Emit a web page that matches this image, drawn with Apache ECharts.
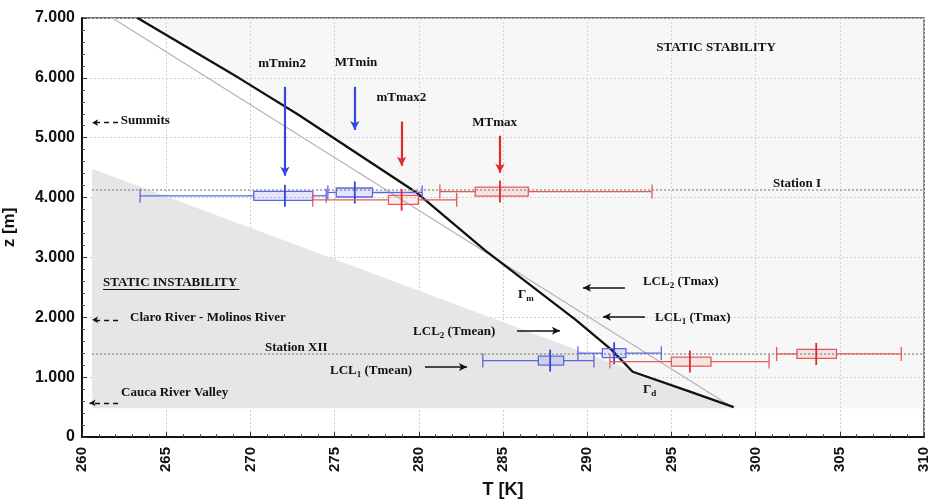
<!DOCTYPE html>
<html><head><meta charset="utf-8">
<script src="https://cdn.jsdelivr.net/npm/echarts@6/dist/echarts.min.js"></script>
<style>html,body{margin:0;padding:0;background:#fff}#c{width:935px;height:503px}</style>
</head><body><div id="c"></div>
<script>
// ---- data ----
const xTickValues = [260, 265, 270, 275, 280, 285, 290, 295, 300, 305, 310];
const yTickValues = [0, 1000, 2000, 3000, 4000, 5000, 6000, 7000];

// Black profile (moist adiabat Γm above the LCL, dry Γd below)
const blackT = [263.3, 269.3, 272.85, 279.9, 283.9, 289.3, 291.45, 292.7, 296.1, 298.7];
const blackZ = [7000, 6000, 5385, 4075, 3127, 1960, 1455, 1090, 758, 500];
// Thin grey reference line
const grayT = [261.8, 298.6];
const grayZ = [7000, 500];
// Static instability wedge
const instabT = [260.6, 298.7, 260.6];
const instabZ = [4480, 480, 480];
// Stability region right edge
const stabEdgeT = [310, 310];
const stabEdgeZ = [480, 7000];

// Horizontal box plots (0 = blue / Tmin, 1 = red / Tmax)
const boxName  = ['mTmin2', 'MTmin', 'mTmax2', 'MTmax', 'XII-b1', 'XII-b2', 'XII-r1', 'XII-r2'];
const boxLow   = [263.45, 274.6, 273.7, 281.25, 283.8, 289.45, 291.35, 301.25];
const boxQ1    = [270.2, 275.1, 278.2, 283.35, 287.1, 290.9, 295.0, 302.45];
const boxMed   = [272.05, 276.2, 278.98, 284.82, 287.8, 291.6, 296.1, 303.6];
const boxQ3    = [273.7, 277.25, 279.97, 286.5, 288.6, 292.3, 297.35, 304.8];
const boxHigh  = [274.5, 280.2, 282.25, 293.85, 290.4, 294.4, 300.8, 308.65];
const boxZ     = [4030, 4085, 3963, 4100, 1276, 1400, 1260, 1388];
const boxColor = [0, 0, 1, 1, 0, 0, 1, 1];

// Reference station levels
const stationName = ['Station I', 'Station XII'];
const stationZ = [4130, 1390];

// ---- styles ----
const BLUE = '#3446dc', BLUE_L = '#5a68e0', RED = '#e02a2a', RED_L = '#e35a5a';
const SERIF = '"Liberation Serif", "DejaVu Serif", serif';

// annotation texts (data coords)
const notes = [
  {t: 'mTmin2', x: 271.88, y: 6237, a: 'center'},
  {t: 'MTmin', x: 276.27, y: 6254, a: 'center'},
  {t: 'mTmax2', x: 278.97, y: 5669, a: 'center'},
  {t: 'MTmax', x: 284.5, y: 5251, a: 'center'},
  {t: 'STATIC STABILITY', x: 297.65, y: 6505, a: 'center'},
  {t: 'Summits', x: 262.3, y: 5290, a: 'left'},
  {t: 'STATIC INSTABILITY', x: 261.25, y: 2575, a: 'left'},
  {t: 'Claro River - Molinos River', x: 262.85, y: 1990, a: 'left'},
  {t: 'Station XII', x: 270.87, y: 1488, a: 'left'},
  {t: 'Cauca River Valley', x: 262.32, y: 736, a: 'left'},
  {t: 'Station I', x: 301.03, y: 4231, a: 'left'},
  {t: '{n|LCL}{s|2}{n| (Tmean)}', x: 279.66, y: 1756, a: 'left'},
  {t: '{n|LCL}{s|1}{n| (Tmean)}', x: 274.73, y: 1104, a: 'left'},
  {t: '{n|LCL}{s|2}{n| (Tmax)}', x: 293.31, y: 2592, a: 'left'},
  {t: '{n|LCL}{s|1}{n| (Tmax)}', x: 294.03, y: 1990, a: 'left'},
  {t: '{n|Γ}{s|m}', x: 285.89, y: 2375, a: 'left'},
  {t: '{n|Γ}{s|d}', x: 293.31, y: 786, a: 'left'}
];

// arrows (data coords)
const vArrows = [
  {x: 272.05, y1: 5850, y2: 4365, c: BLUE},
  {x: 276.2, y1: 5850, y2: 5130, c: BLUE},
  {x: 278.98, y1: 5270, y2: 4530, c: RED},
  {x: 284.82, y1: 5033, y2: 4415, c: RED}
];
const hArrows = [
  {x1: 285.83, x2: 288.38, y: 1773},
  {x1: 280.37, x2: 282.86, y: 1171},
  {x1: 292.24, x2: 289.75, y: 2492},
  {x1: 293.43, x2: 290.94, y: 2007}
];
const dashArrows = [
  {x1: 262.14, x2: 260.6, y: 5251},
  {x1: 262.14, x2: 260.6, y: 1957},
  {x1: 262.14, x2: 260.45, y: 569}
];

const chart = echarts.init(document.getElementById('c'), null, {renderer: 'canvas'});

function polyItem(T, Z, fill) {
  return function (params, api) {
    const pts = T.map((t, i) => api.coord([t, Z[i]]));
    return {type: 'polygon', shape: {points: pts}, style: {fill: fill}, silent: true};
  };
}

const stabT = blackT.concat(stabEdgeT);
const stabZ = blackZ.slice(0, -1).concat([480]).concat(stabEdgeZ);

function renderBox(params, api) {
  const lo = api.value(0), q1 = api.value(1), med = api.value(2), q3 = api.value(3), hi = api.value(4), z = api.value(5);
  const isRed = api.value(6) === 1;
  const col = isRed ? RED_L : BLUE_L, dark = isRed ? RED : BLUE;
  const pLo = api.coord([lo, z]), pQ1 = api.coord([q1, z]), pM = api.coord([med, z]), pQ3 = api.coord([q3, z]), pHi = api.coord([hi, z]);
  const y = pLo[1];
  const ls = {stroke: col, lineWidth: 1.3, fill: null};
  return {type: 'group', children: [
    {type: 'line', shape: {x1: pLo[0], y1: y, x2: pQ1[0], y2: y}, style: ls},
    {type: 'line', shape: {x1: pQ3[0], y1: y, x2: pHi[0], y2: y}, style: ls},
    {type: 'line', shape: {x1: pLo[0], y1: y - 7, x2: pLo[0], y2: y + 7}, style: ls},
    {type: 'line', shape: {x1: pHi[0], y1: y - 7, x2: pHi[0], y2: y + 7}, style: ls},
    {type: 'rect', shape: {x: pQ1[0], y: y - 4.5, width: pQ3[0] - pQ1[0], height: 9},
      style: {stroke: col, lineWidth: 1.3, fill: isRed ? 'rgba(224,60,60,0.10)' : 'rgba(60,75,220,0.14)'}},
    {type: 'line', shape: {x1: pM[0], y1: y - 11, x2: pM[0], y2: y + 11}, style: {stroke: dark, lineWidth: 1.8}}
  ]};
}

function renderNote(params, api) {
  const n = notes[params.dataIndex];
  const p = api.coord([n.x, n.y]);
  return {type: 'text', x: p[0], y: p[1], silent: true,
    style: {text: n.t, fill: '#111', align: n.a, verticalAlign: 'middle',
      fontFamily: SERIF, fontWeight: 'bold', fontSize: 13,
      rich: {
        n: {fontFamily: SERIF, fontWeight: 'bold', fontSize: 13, fill: '#111'},
        s: {fontFamily: SERIF, fontWeight: 'bold', fontSize: 9, fill: '#111', padding: [7, 0, 0, 0]}
      }}};
}

const markLines = [];
vArrows.forEach(a => markLines.push([
  {coord: [a.x, a.y1], symbol: 'none', lineStyle: {color: a.c, width: 2.2, type: 'solid'}},
  {coord: [a.x, a.y2], symbol: 'arrow', symbolSize: [7, 9]}
]));
hArrows.forEach(a => markLines.push([
  {coord: [a.x1, a.y], symbol: 'none', lineStyle: {color: '#111', width: 1.6, type: 'solid'}},
  {coord: [a.x2, a.y], symbol: 'arrow', symbolSize: [6, 8]}
]));
dashArrows.forEach(a => markLines.push([
  {coord: [a.x1, a.y], symbol: 'none', lineStyle: {color: '#111', width: 1.4, type: [5, 4]}},
  {coord: [a.x2, a.y], symbol: 'arrow', symbolSize: [5, 6]}
]));
// underline of STATIC INSTABILITY
markLines.push([
  {coord: [261.25, 2475], symbol: 'none', lineStyle: {color: '#111', width: 1, type: 'solid'}},
  {coord: [269.35, 2475], symbol: 'none'}
]);
stationZ.forEach(z => markLines.push([
  {coord: [260.6, z], symbol: 'none', lineStyle: {color: '#999', width: 1.5, type: [2, 2]}},
  {coord: [310, z], symbol: 'none'}
]));

const option = {
  animation: false,
  backgroundColor: '#fff',
  grid: {left: 82, right: 11, top: 18, bottom: 66, outerBoundsMode: 'none', containLabel: false,
    show: true, borderColor: '#444', borderWidth: 1.5, backgroundColor: 'transparent'},
  xAxis: {
    type: 'value', min: 260, max: 310, interval: 5,
    name: 'T [K]', nameLocation: 'middle', nameGap: 44,
    nameTextStyle: {fontFamily: '"Liberation Sans", Arial, sans-serif', fontWeight: 'bold', fontSize: 18, color: '#111'},
    axisLine: {show: true, onZero: false, lineStyle: {color: '#111', width: 2}},
    axisTick: {show: true, inside: true, length: 5, lineStyle: {color: '#333'}},
    minorTick: {show: true, splitNumber: 5, length: 3, lineStyle: {color: '#555'}},
    axisLabel: {rotate: 90, margin: 10, fontFamily: '"Liberation Sans", Arial, sans-serif', fontWeight: 'bold', fontSize: 15, color: '#111',
      hideOverlap: false, formatter: v => xTickValues.includes(v) ? String(v) : ''},
    splitLine: {show: true, lineStyle: {color: '#cfcfcf', type: [2, 2], width: 1}}
  },
  yAxis: {
    type: 'value', min: 0, max: 7000, interval: 1000,
    name: 'z [m]', nameLocation: 'middle', nameGap: 64, nameRotate: 90,
    nameTextStyle: {fontFamily: '"Liberation Sans", Arial, sans-serif', fontWeight: 'bold', fontSize: 17, color: '#111'},
    axisLine: {show: true, onZero: false, lineStyle: {color: '#111', width: 2}},
    axisTick: {show: true, inside: true, length: 5, lineStyle: {color: '#333'}},
    minorTick: {show: true, splitNumber: 5, length: 3, lineStyle: {color: '#555'}},
    axisLabel: {margin: 7, fontFamily: '"Liberation Sans", Arial, sans-serif', fontWeight: 'bold', fontSize: 16, color: '#111',
      formatter: v => yTickValues.includes(v) ? (v === 0 ? '0' : (v / 1000) + '.000') : ''},
    splitLine: {show: true, lineStyle: {color: '#cfcfcf', type: [2, 2], width: 1}}
  },
  series: [
    {type: 'custom', name: 'stability', coordinateSystem: 'cartesian2d', clip: true, z: 0,
      renderItem: polyItem(stabT, stabZ, 'rgba(225,225,225,0.28)'), data: [[stabT[0], stabZ[0]]], silent: true},
    {type: 'custom', name: 'instability', coordinateSystem: 'cartesian2d', clip: true, z: 1,
      renderItem: polyItem(instabT, instabZ, '#e6e6e6'), data: [[instabT[0], instabZ[0]]], silent: true},
    {type: 'line', name: 'gray', data: grayT.map((t, i) => [t, grayZ[i]]), showSymbol: false, symbol: 'none', z: 3,
      lineStyle: {color: '#b5b5b5', width: 1.3}, silent: true},
    {type: 'line', name: 'profile', data: blackT.map((t, i) => [t, blackZ[i]]), showSymbol: false, symbol: 'none', z: 4,
      lineStyle: {color: '#111', width: 2.3}, silent: true,
      markLine: {silent: true, animation: false, label: {show: false}, emphasis: {disabled: true}, data: markLines}},
    {type: 'custom', name: 'boxes', coordinateSystem: 'cartesian2d', z: 5, renderItem: renderBox,
      encode: {x: [0, 1, 2, 3, 4], y: 5},
      data: boxName.map((n, i) => [boxLow[i], boxQ1[i], boxMed[i], boxQ3[i], boxHigh[i], boxZ[i], boxColor[i]]), silent: true},
    {type: 'custom', name: 'notes', coordinateSystem: 'cartesian2d', z: 6, renderItem: renderNote, clip: false,
      encode: {x: 0, y: 1}, data: notes.map(n => [n.x, n.y]), silent: true}
  ]
};
chart.setOption(option);
</script></body></html>
